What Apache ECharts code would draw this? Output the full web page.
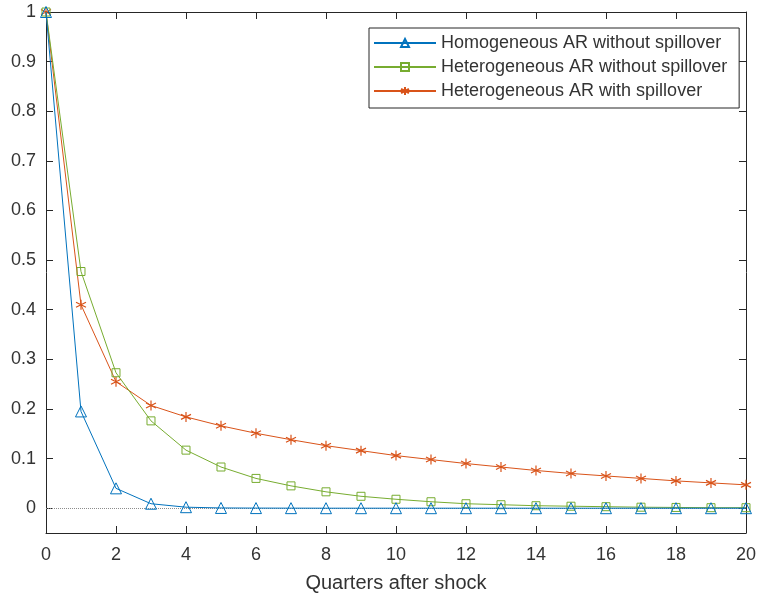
<!DOCTYPE html>
<html>
<head>
<meta charset="utf-8">
<script src="https://cdn.jsdelivr.net/npm/echarts@6/dist/echarts.min.js"></script>
<style>
  html, body { margin: 0; padding: 0; background: #fff; }
  #chart { width: 759px; height: 598px; }
</style>
</head>
<body>
<div id="chart"></div>
<script>
// trimestres despues del choque
const quarters = [0, 1, 2, 3, 4, 5, 6, 7, 8, 9, 10, 11, 12, 13, 14, 15, 16, 17, 18, 19, 20];

const homogeneous = [1, 0.195, 0.04, 0.009, 0.002, 0.0005, 0.0002, 0.0001, 0, 0, 0, 0, 0, 0, 0, 0, 0, 0, 0, 0, 0];
const heteroNoSpill = [1, 0.477, 0.273, 0.176, 0.117, 0.083, 0.060, 0.045, 0.033, 0.024, 0.018, 0.013, 0.009, 0.007, 0.005, 0.004, 0.003, 0.002, 0.0015, 0.001, 0.001];
const heteroSpill = [1, 0.41, 0.255, 0.207, 0.184, 0.166, 0.151, 0.138, 0.126, 0.116, 0.106, 0.098, 0.090, 0.083, 0.076, 0.070, 0.065, 0.060, 0.055, 0.051, 0.047];

const xTicks = [0, 2, 4, 6, 8, 10, 12, 14, 16, 18, 20];
const yTicks = [0, 0.1, 0.2, 0.3, 0.4, 0.5, 0.6, 0.7, 0.8, 0.9, 1];

const names = [
  "Homogeneous AR without spillover",
  "Heterogeneous AR without spillover",
  "Heterogeneous AR with spillover",
];

const FONT = "Liberation Sans";
const INK = "#262626";
const asterisk = "path://M0,-10L0,10M-8.66,-5L8.66,5M-8.66,5L8.66,-5";

function pairs(vals) {
  return vals.map((v, i) => [quarters[i], v]);
}

const chart = echarts.init(document.getElementById("chart"));

const boxLine = { show: true, onZero: false, lineStyle: { color: INK, width: 1 } };
const tickStyle = { color: INK, width: 1 };

const option = {
  animation: false,
  backgroundColor: "#fff",
  textStyle: { fontFamily: FONT },
  grid: { left: 46, right: 11, top: 12, bottom: 63, containLabel: false },
  legend: {
    orient: "vertical",
    left: 369,
    top: 28,
    padding: [6, 12, 8, 4],
    itemGap: 6,
    itemWidth: 62,
    itemHeight: 10,
    borderColor: INK,
    borderWidth: 1,
    backgroundColor: "#fff",
    textStyle: { fontFamily: FONT, fontSize: 18, color: "#333" },
    data: names,
  },
  xAxis: [
    {
      type: "value",
      min: 0,
      max: 20,
      interval: 2,
      name: "Quarters after shock",
      nameLocation: "middle",
      nameGap: 40,
      nameTextStyle: { fontFamily: FONT, fontSize: 20, color: "#333" },
      axisLine: boxLine,
      axisTick: { show: true, inside: true, length: 7, customValues: xTicks, lineStyle: tickStyle },
      axisLabel: { fontFamily: FONT, fontSize: 18, color: "#333", margin: 13, customValues: xTicks },
      splitLine: { show: false },
    },
    {
      type: "value",
      position: "top",
      min: 0,
      max: 20,
      interval: 2,
      axisLine: boxLine,
      axisTick: { show: true, inside: true, length: 7, customValues: xTicks, lineStyle: tickStyle },
      axisLabel: { show: false },
      splitLine: { show: false },
    },
  ],
  yAxis: [
    {
      type: "value",
      min: -0.05,
      max: 1,
      axisLine: boxLine,
      axisTick: { show: true, inside: true, length: 7, customValues: yTicks, lineStyle: tickStyle },
      axisLabel: {
        fontFamily: FONT,
        fontSize: 18,
        color: "#333",
        margin: 10,
        customValues: yTicks,
        formatter: (v) => String(Math.round(v * 10) / 10),
      },
      splitLine: { show: false },
    },
    {
      type: "value",
      position: "right",
      min: -0.05,
      max: 1,
      axisLine: boxLine,
      axisTick: { show: true, inside: true, length: 7, customValues: yTicks, lineStyle: tickStyle },
      axisLabel: { show: false },
      splitLine: { show: false },
    },
  ],
  series: [
    {
      name: names[0],
      type: "line",
      data: pairs(homogeneous),
      symbol: "triangle",
      symbolSize: 11,
      showAllSymbol: true,
      lineStyle: { color: "#0072BD", width: 1 },
      itemStyle: { color: "rgba(255,255,255,0)", borderColor: "#0072BD", borderWidth: 1 },
      z: 5,
      markLine: {
        silent: true,
        symbol: "none",
        label: { show: false },
        lineStyle: { color: "#8c8c8c", type: "dotted", width: 1 },
        data: [{ yAxis: 0 }],
      },
    },
    {
      name: names[1],
      type: "line",
      data: pairs(heteroNoSpill),
      symbol: "rect",
      symbolSize: 8,
      showAllSymbol: true,
      lineStyle: { color: "#77AC30", width: 1 },
      itemStyle: { color: "rgba(255,255,255,0)", borderColor: "#77AC30", borderWidth: 1 },
      z: 4,
    },
    {
      name: names[2],
      type: "line",
      data: pairs(heteroSpill),
      symbol: asterisk,
      symbolSize: 10,
      showAllSymbol: true,
      lineStyle: { color: "#D95319", width: 1 },
      itemStyle: { color: "rgba(0,0,0,0)", borderColor: "#D95319", borderWidth: 1.2 },
      z: 3,
    },
  ],
};

chart.setOption(option);
</script>
</body>
</html>
